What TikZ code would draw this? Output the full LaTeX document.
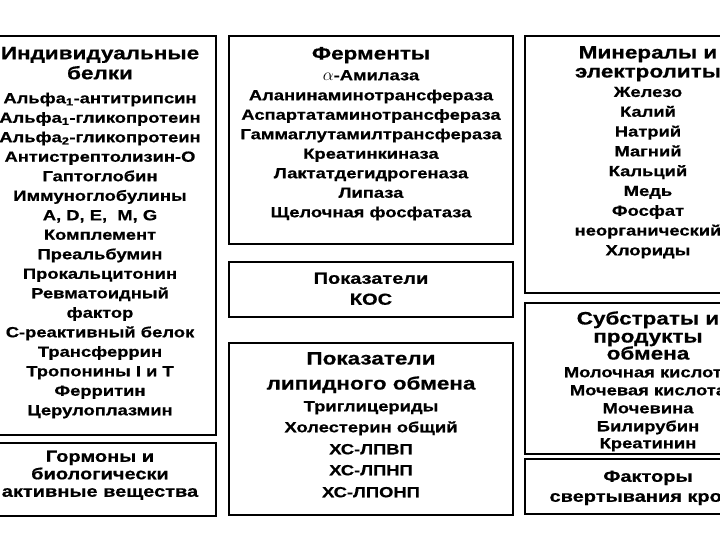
\documentclass[tikz,border=0pt]{standalone}
\usepackage{fontspec}
\setmainfont{Liberation Sans}[FakeStretch=1.25,BoldFeatures={FakeBold=0.6}]
\begin{document}
\begin{tikzpicture}[x=1pt,y=-1pt,
  box/.style={draw=black,line width=1.1pt,rectangle,inner sep=0pt},
  ttl/.style={font=\fontsize{18}{20}\selectfont\bfseries,text height=13pt,text depth=0pt,inner sep=0pt},
  ttm/.style={font=\fontsize{16}{18}\selectfont\bfseries,text height=11.5pt,text depth=0pt,inner sep=0pt},
  itm/.style={font=\fontsize{14.7}{18}\selectfont\bfseries,text height=10.5pt,text depth=0pt,inner sep=0pt}]
\useasboundingbox (0,0) rectangle (720,540);
\clip (0,0) rectangle (720,540);
\fill[white] (0,0) rectangle (720,540);
% boxes
\node[box,minimum width=232pt,minimum height=399pt] (L1) at (100,235.5) {};
\node[box,minimum width=232pt,minimum height=73pt] (L2) at (100,479.5) {};
\node[box,minimum width=284pt,minimum height=208pt] (M1) at (371,140) {};
\node[box,minimum width=284pt,minimum height=55pt] (M2) at (371,289.5) {};
\node[box,minimum width=284pt,minimum height=172pt] (M3) at (371,429) {};
\node[box,minimum width=246pt,minimum height=257pt] (R1) at (648,164.5) {};
\node[box,minimum width=246pt,minimum height=151pt] (R2) at (648,378.5) {};
\node[box,minimum width=246pt,minimum height=55pt] (R3) at (648,486.5) {};
% left column
\foreach \yy/\tx [count=\i] in {52.7/Индивидуальные,72.7/белки}
  \node[ttl] (L1t\i) at (100,\yy) {\tx};
\foreach \yy/\tx [count=\i] in {98/{Альфа\textsubscript{1}-антитрипсин},117.5/{Альфа\textsubscript{1}-гликопротеин},137/{Альфа\textsubscript{2}-гликопротеин},156.5/Антистрептолизин-О,176/Гаптоглобин,195.5/Иммуноглобулины,215/{A, D, E,\ \ M, G},234.5/Комплемент,254/Преальбумин,273.5/Прокальцитонин,293/Ревматоидный,312.5/фактор,332/С-реактивный белок,351.5/Трансферрин,371/Тропонины I и T,390.5/Ферритин,410/Церулоплазмин}
  \node[itm] (L1i\i) at (100,\yy) {\tx};
\foreach \yy/\tx [count=\i] in {456/Гормоны и,473.5/биологически,491/активные вещества}
  \node[ttm] (L2t\i) at (100,\yy) {\tx};
% middle column
\node[ttl] (M1t) at (371,53) {Ферменты};
\foreach \yy/\tx [count=\i] in {75/{{\fontsize{19}{20}\selectfont$\alpha$}-Амилаза},95/Аланинаминотрансфераза,114.5/Аспартатаминотрансфераза,134/Гаммаглутамилтрансфераза,153.5/Креатинкиназа,173/Лактатдегидрогеназа,192.5/Липаза,212/Щелочная фосфатаза}
  \node[itm] (M1i\i) at (371,\yy) {\tx};
\foreach \yy/\tx [count=\i] in {278/Показатели,299/КОС}
  \node[ttm] (M2t\i) at (371,\yy) {\tx};
\foreach \yy/\tx [count=\i] in {358/Показатели,383/липидного обмена}
  \node[ttl] (M3t\i) at (371,\yy) {\tx};
\foreach \yy/\tx [count=\i] in {406/Триглицериды,427/Холестерин общий,449/ХС-ЛПВП,470/ХС-ЛПНП,492/ХС-ЛПОНП}
  \node[itm] (M3i\i) at (371,\yy) {\tx};
% right column
\foreach \yy/\tx [count=\i] in {52/Минералы и,71/электролиты}
  \node[ttl] (R1t\i) at (648,\yy) {\tx};
\foreach \yy/\tx [count=\i] in {91.7/Железо,111.5/Калий,131.3/Натрий,151.1/Магний,170.9/Кальций,190.7/Медь,210.5/Фосфат,230.3/неорганический,250.1/Хлориды}
  \node[itm] (R1i\i) at (648,\yy) {\tx};
\foreach \yy/\tx [count=\i] in {318/Субстраты и,336/продукты,353/обмена}
  \node[ttl] (R2t\i) at (648,\yy) {\tx};
\foreach \yy/\tx [count=\i] in {372/Молочная кислота,390/Мочевая кислота,408/Мочевина,426/Билирубин,443/Креатинин}
  \node[itm] (R2i\i) at (648,\yy) {\tx};
\foreach \yy/\tx [count=\i] in {476/Факторы,496/свертывания крови}
  \node[ttm] (R3t\i) at (648,\yy) {\tx};
\end{tikzpicture}
\end{document}
